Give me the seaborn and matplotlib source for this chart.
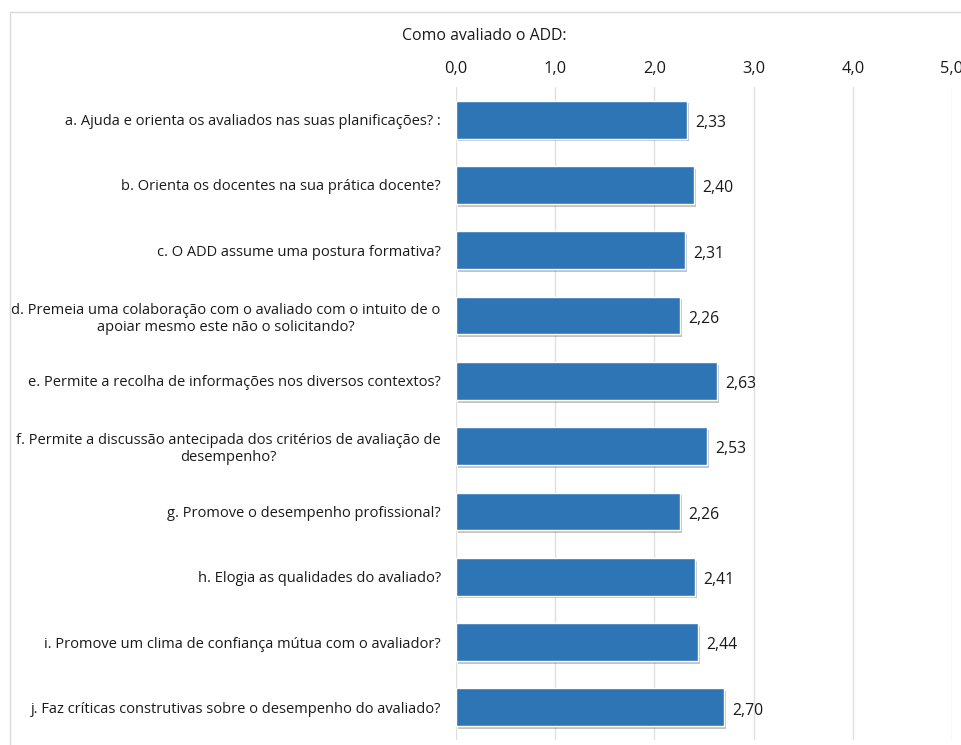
import matplotlib
matplotlib.use("Agg")
import matplotlib.pyplot as plt
import matplotlib.patheffects as pe
from matplotlib.patches import Rectangle
import seaborn as sns
import pandas as pd

categories = [
    "a. Ajuda e orienta os avaliados nas suas planificações? :",
    "b. Orienta os docentes na sua prática docente?",
    "c. O ADD assume uma postura formativa?",
    "d. Premeia uma colaboração com o avaliado com o intuito de o\napoiar mesmo este não o solicitando?",
    "e. Permite a recolha de informações nos diversos contextos?",
    "f. Permite a discussão antecipada dos critérios de avaliação de\ndesempenho?",
    "g. Promove o desempenho profissional?",
    "h. Elogia as qualidades do avaliado?",
    "i. Promove um clima de confiança mútua com o avaliador?",
    "j. Faz críticas construtivas sobre o desempenho do avaliado?",
]
values = [2.33, 2.40, 2.31, 2.26, 2.63, 2.53, 2.26, 2.41, 2.44, 2.70]
tick_values = [0, 1, 2, 3, 4, 5]
tick_labels = ["0,0", "1,0", "2,0", "3,0", "4,0", "5,0"]
title = "Como avaliado o ADD:"

sns.set_theme(style="white")
plt.rcParams["font.family"] = ["Open Sans", "DejaVu Sans"]
text_color = "#1a1a1a"

df = pd.DataFrame({"cat": categories, "val": values})

fig = plt.figure(figsize=(9.61, 7.45), dpi=100)
fig.patches.append(Rectangle((10 / 961, -0.01), 1.0, 1 - 12 / 745 + 0.01,
                             transform=fig.transFigure, fill=False,
                             edgecolor="#d9d9d9", linewidth=1.0))
ax = fig.add_axes([456 / 961, 5 / 745, (952 - 456) / 961, (745 - 5 - 87) / 745])

sns.barplot(data=df, x="val", y="cat", ax=ax, color="#2E75B6", saturation=1,
            width=0.58, orient="h", zorder=3)
for p in ax.patches:
    p.set_path_effects([pe.SimplePatchShadow(offset=(1.5, -2), shadow_rgbFace="#555555", alpha=0.35),
                        pe.Normal()])

for i, v in enumerate(values):
    ax.text(v + 0.08, i + 0.05, f"{v:.2f}".replace(".", ","), va="center", ha="left",
            fontsize=11.3, color=text_color)

ax.set_xlim(0, 5)
ax.set_ylim(len(values) - 0.5, -0.5)
ax.xaxis.tick_top()
ax.set_xticks(tick_values)
ax.set_xticklabels(tick_labels, fontsize=11.8, color=text_color)
ax.tick_params(axis="x", length=0, pad=7)
ax.tick_params(axis="y", length=0, pad=11)
ax.set_yticklabels(categories, fontsize=10.5, color=text_color, ha="right",
                   multialignment="center")
ax.grid(axis="x", color="#e0e0e0", linewidth=1, zorder=0)
ax.set_axisbelow(True)
for s in ax.spines.values():
    s.set_visible(False)
ax.set_xlabel("")
ax.set_ylabel("")

fig.text(484 / 961, 1 - 36 / 745, title, ha="center", va="center",
         fontsize=11.4, color=text_color)

fig.savefig("out.png", dpi=100)
